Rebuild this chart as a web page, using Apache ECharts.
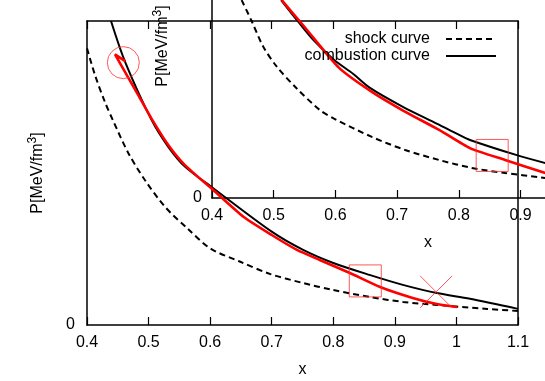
<!DOCTYPE html>
<html><head><meta charset="utf-8">
<script src="https://cdn.jsdelivr.net/npm/echarts@6/dist/echarts.min.js"></script>
<style>html,body{margin:0;padding:0;background:#fff}#c{width:545px;height:381px}</style>
</head><body><div id="c"></div>
<script>
// ---- data ----
const mainShockX = [0.400,0.413,0.429,0.442,0.467,0.494,0.527,0.564,0.600,0.648,0.697,0.751,0.800,0.860,0.913,0.968,1.050,1.100];
const mainShockY = [91.0,82.2,73.4,67.4,56.6,47.7,38.8,31.6,25.2,20.9,16.8,13.8,11.5,9.2,7.6,6.6,5.3,4.6];
const mainCombX = [0.439,0.462,0.505,0.532,0.559,0.605,0.700,0.751,0.800,0.860,0.913,0.968,1.022,1.100];
const mainCombY = [100.0,86.5,67.4,58.6,52.1,45.0,30.7,24.7,20.4,16.4,13.2,10.5,8.6,5.3];
const mainPathX = [1.001,0.968,0.929,0.876,0.827,0.778,0.741,0.700,0.654,0.605,0.559,0.532,0.505,0.483,0.4455,0.4625];
const mainPathY = [5.9,6.9,8.9,12.5,17.1,21.4,24.7,29.6,35.6,44.4,52.6,59.2,67.8,75.7,89.0,86.7];
const insetShockX = [0.448,0.464,0.483,0.505,0.537,0.575,0.597,0.659,0.713,0.768,0.821,0.875,0.940];
const insetShockY = [65.1,58.3,49.8,43.2,36.1,28.9,26.2,20.1,15.8,12.5,9.9,8.2,6.6];
const insetCombX = [0.512,0.538,0.564,0.598,0.629,0.656,0.710,0.765,0.799,0.818,0.894,0.940];
const insetCombY = [65.1,58.4,52.0,45.4,40.8,36.2,29.9,24.4,20.9,19.1,14.1,11.5];
const insetPathX = [0.513,0.551,0.606,0.659,0.711,0.768,0.818,0.875,0.940];
const insetPathY = [65.1,56.0,42.8,34.9,28.6,22.4,16.4,12.5,8.2];
const mainMarkX = [0.459,0.852,0.967];
const mainMarkY = [86.3,14.5,10.9];
const mainMarkShape = ['circle','rect','path://M0,0L10,10M10,0L0,10'];
const insetMarkX = [0.854];
const insetMarkY = [14.0];
const xMin = 0.4, xMax = 1.1, xStep = 0.1;
const yMin = 0, yMax = 100;
const names = ['shock curve','combustion curve'];

// ---- chart ----
const pairs = (xs, ys) => xs.map((x, i) => [x, ys[i]]);
const FONT = "'Liberation Sans', Arial, sans-serif";
const axisLine = {show: true, onZero: false, lineStyle: {color: '#000', width: 1.5}};
const tick = {show: true, inside: true, length: 8, lineStyle: {color: '#000', width: 1.2}};
const lbl = {color: '#000', fontSize: 16, fontFamily: FONT};

function xAx(grid, pos, labels, name) {
  return {type: 'value', gridIndex: grid, position: pos, min: xMin, max: xMax, interval: xStep,
    axisLine, axisTick: tick, splitLine: {show: false},
    axisLabel: labels ? Object.assign({margin: 10}, lbl) : {show: false},
    name: name || '', nameLocation: 'middle', nameGap: 37, nameTextStyle: lbl};
}
function yAx(grid, pos, labels, margin) {
  return {type: 'value', gridIndex: grid, position: pos, min: yMin, max: yMax, interval: yMax,
    axisLine, axisTick: {show: false}, splitLine: {show: false},
    axisLabel: labels ? Object.assign({margin: margin, formatter: v => v === 0 ? '0' : ''}, lbl) : {show: false},
    name: labels ? '{n|P[MeV/fm}{s|3}{n|]}' : '', nameLocation: 'middle', nameRotate: 90, nameGap: 38,
    nameTextStyle: {color: '#000', fontFamily: FONT,
      rich: {n: {fontSize: 16, fontFamily: FONT, color: '#000'},
             s: {fontSize: 12, fontFamily: FONT, color: '#000', padding: [0, 0, 10, 0]}}}};
}
const blk = (name, xs, ys, xi, yi, dashed) => ({
  type: 'line', name, xAxisIndex: xi, yAxisIndex: yi, data: pairs(xs, ys), symbol: 'none',
  smooth: 0.3, silent: true, clip: true,
  lineStyle: {color: '#000', width: 2, type: dashed ? [6, 4] : 'solid'}, itemStyle: {color: '#000'}
});
const red = (name, xs, ys, xi, yi) => ({
  type: 'line', name, xAxisIndex: xi, yAxisIndex: yi, data: pairs(xs, ys), symbol: 'none',
  smooth: 0.2, silent: true, clip: true, z: 3,
  lineStyle: {color: '#ff0000', width: 2.6}
});
const marks = (name, xs, ys, shapes, xi, yi) => ({
  type: 'scatter', name, xAxisIndex: xi, yAxisIndex: yi, silent: true, z: 4,
  data: xs.map((x, i) => ({value: [x, ys[i]], symbol: shapes[i]})),
  symbolSize: 32,
  itemStyle: {color: 'transparent', borderColor: '#ff3030', borderWidth: 1}
});
const legendBase = {orient: 'horizontal', align: 'right', right: 48, itemWidth: 50, itemHeight: 14,
  padding: 0, selectedMode: false,
  itemStyle: {color: 'rgba(0,0,0,0)', borderColor: 'rgba(0,0,0,0)', borderWidth: 0, opacity: 0},
  textStyle: {color: '#000', fontSize: 16, fontFamily: FONT, padding: [0, 11, 0, 0]}};

const chart = echarts.init(document.getElementById('c'), null, {renderer: 'canvas'});
chart.setOption({
  animation: false,
  backgroundColor: '#fff',
  grid: [
    {left: 87, top: 21, width: 431, height: 304, outerBoundsMode: 'none', containLabel: false},
    {left: 212, top: -106, width: 432, height: 304, outerBoundsMode: 'none', containLabel: false}
  ],
  xAxis: [xAx(0, 'bottom', true, 'x'), xAx(0, 'top', false), xAx(1, 'bottom', true, 'x')],
  yAxis: [yAx(0, 'left', true, 12), yAx(0, 'right', false), yAx(1, 'left', true, 10)],
  legend: [
    Object.assign({}, legendBase, {data: [names[0]], top: 31}),
    Object.assign({}, legendBase, {data: [names[1]], top: 48})
  ],
  series: [
    blk(names[0], mainShockX, mainShockY, 0, 0, true),
    blk(names[1], mainCombX, mainCombY, 0, 0, false),
    red('path main', mainPathX, mainPathY, 0, 0),
    marks('marks main', mainMarkX, mainMarkY, mainMarkShape, 0, 0),
    blk(names[0], insetShockX, insetShockY, 2, 2, true),
    blk(names[1], insetCombX, insetCombY, 2, 2, false),
    red('path inset', insetPathX, insetPathY, 2, 2),
    marks('marks inset', insetMarkX, insetMarkY, ['rect'], 2, 2)
  ]
});
</script></body></html>
